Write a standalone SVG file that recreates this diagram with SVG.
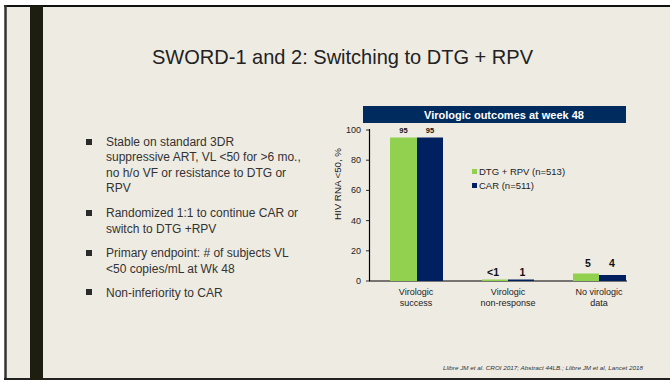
<svg xmlns="http://www.w3.org/2000/svg" width="670" height="380" viewBox="0 0 670 380">
  <style>
    .bg { fill: #EEEBE3; }
    .title { font-family: "Liberation Sans Narrow", "Liberation Sans", Arial, sans-serif; font-size: 21px; fill: #222222; }
    .bullet-text { font-family: "Liberation Sans", Arial, sans-serif; font-size: 12px; fill: #333333; }
    .bullet { fill: #2A2A2A; }
    .axis { stroke: #000000; stroke-width: 1.2; fill: none; }
    .tick { stroke: #000000; stroke-width: 0.8; }
    .ticklbl { font-family: "Liberation Sans", Arial, sans-serif; font-size: 9px; fill: #222222; text-anchor: end; }
    .catlbl { font-family: "Liberation Sans", Arial, sans-serif; font-size: 9px; fill: #222222; text-anchor: middle; }
    .val-s { font-family: "Liberation Sans", Arial, sans-serif; font-size: 7.5px; font-weight: bold; fill: #111111; text-anchor: middle; }
    .val-l { font-family: "Liberation Sans", Arial, sans-serif; font-size: 10.5px; font-weight: bold; fill: #111111; text-anchor: middle; }
    .legend { font-family: "Liberation Sans", Arial, sans-serif; font-size: 9.5px; fill: #222222; }
    .green { fill: #92D050; }
    .navy { fill: #002060; }
    .header { fill: #002B5E; }
    .header-text { font-family: "Liberation Sans", Arial, sans-serif; font-size: 11px; font-weight: bold; fill: #FFFFFF; text-anchor: middle; }
    .ylabel { font-family: "Liberation Sans", Arial, sans-serif; font-size: 8.5px; fill: #222222; }
    .cite { font-family: "Liberation Sans", Arial, sans-serif; font-size: 6px; font-style: italic; fill: #333333; }
  </style>

  <!-- slide background and frame -->
  <rect x="0" y="0" width="670" height="380" fill="#FFFFFF"/>
  <rect class="bg" x="5" y="6" width="665" height="372"/>
  <line x1="4" y1="6" x2="670" y2="6" stroke="#111111" stroke-width="2"/>
  <line x1="5.5" y1="5" x2="5.5" y2="380" stroke="#333333" stroke-width="2.5"/>
  <line x1="4" y1="379" x2="670" y2="379" stroke="#222222" stroke-width="2"/>
  <rect x="30" y="6" width="13" height="374" fill="#1E1E10"/>

  <!-- title -->
  <text class="title" x="152" y="64" textLength="381" lengthAdjust="spacingAndGlyphs">SWORD-1 and 2: Switching to DTG + RPV</text>

  <!-- bullet list -->
  <g id="bullets">
    <rect class="bullet" x="86" y="139" width="6" height="6"/>
    <text class="bullet-text" x="106" y="146">Stable on standard 3DR</text>
    <text class="bullet-text" x="106" y="161">suppressive ART, VL &lt;50 for &gt;6 mo.,</text>
    <text class="bullet-text" x="106" y="176.5">no h/o VF or resistance to DTG or</text>
    <text class="bullet-text" x="106" y="192">RPV</text>

    <rect class="bullet" x="86" y="210" width="6" height="6"/>
    <text class="bullet-text" x="106" y="217">Randomized 1:1 to continue CAR or</text>
    <text class="bullet-text" x="106" y="232.5">switch to DTG +RPV</text>

    <rect class="bullet" x="86" y="250" width="6" height="6"/>
    <text class="bullet-text" x="106" y="257">Primary endpoint: # of subjects VL</text>
    <text class="bullet-text" x="106" y="272.5">&lt;50 copies/mL at Wk 48</text>

    <rect class="bullet" x="86" y="289" width="6" height="6"/>
    <text class="bullet-text" x="106" y="296.5">Non-inferiority to CAR</text>
  </g>

  <!-- chart -->
  <g id="chart-header">
    <rect class="header" x="363" y="106" width="263" height="17"/>
    <text class="header-text" x="504" y="118.5">Virologic outcomes at week 48</text>
  </g>

  <g id="axes">
    <line class="axis" x1="369.5" y1="129" x2="369.5" y2="281"/>
    <line class="axis" x1="369" y1="281" x2="627" y2="281"/>
    <line class="tick" x1="366" y1="130" x2="369.5" y2="130"/>
    <line class="tick" x1="366" y1="160.2" x2="369.5" y2="160.2"/>
    <line class="tick" x1="366" y1="190.4" x2="369.5" y2="190.4"/>
    <line class="tick" x1="366" y1="220.6" x2="369.5" y2="220.6"/>
    <line class="tick" x1="366" y1="250.8" x2="369.5" y2="250.8"/>
    <line class="tick" x1="366" y1="281" x2="369.5" y2="281"/>
    <text class="ticklbl" x="361" y="133">100</text>
    <text class="ticklbl" x="361" y="163.2">80</text>
    <text class="ticklbl" x="361" y="193.4">60</text>
    <text class="ticklbl" x="361" y="223.6">40</text>
    <text class="ticklbl" x="361" y="253.8">20</text>
    <text class="ticklbl" x="361" y="284">0</text>
    <text class="ylabel" transform="translate(341,220) rotate(-90)" textLength="72" lengthAdjust="spacingAndGlyphs">HIV RNA &lt;50, %</text>
  </g>

  <g id="group-success">
    <rect class="green" x="390" y="137.5" width="27" height="143.5"/>
    <rect class="navy" x="417" y="137.5" width="26" height="143.5"/>
    <text class="val-s" x="403.5" y="133">95</text>
    <text class="val-s" x="430" y="133">95</text>
    <text class="catlbl" x="416" y="295">Virologic</text>
    <text class="catlbl" x="416" y="306">success</text>
  </g>

  <g id="group-nonresponse">
    <rect class="green" x="482" y="279.5" width="26" height="1.5"/>
    <rect class="navy" x="508" y="279.5" width="26" height="1.5"/>
    <text class="val-l" x="493" y="276">&lt;1</text>
    <text class="val-l" x="522.5" y="276">1</text>
    <text class="catlbl" x="508" y="295">Virologic</text>
    <text class="catlbl" x="508" y="306">non-response</text>
  </g>

  <g id="group-nodata">
    <rect class="green" x="573" y="273.5" width="26" height="7.5"/>
    <rect class="navy" x="599" y="275" width="27" height="6"/>
    <text class="val-l" x="588" y="267">5</text>
    <text class="val-l" x="612" y="267">4</text>
    <text class="catlbl" x="599" y="295">No virologic</text>
    <text class="catlbl" x="599" y="306">data</text>
  </g>

  <g id="legend">
    <rect class="green" x="472" y="169" width="5" height="5"/>
    <text class="legend" x="479" y="175">DTG + RPV (n=513)</text>
    <rect class="navy" x="472" y="183" width="5" height="5"/>
    <text class="legend" x="479" y="189">CAR (n=511)</text>
  </g>

  <!-- citation -->
  <text class="cite" x="443" y="370" textLength="200" lengthAdjust="spacingAndGlyphs">Llibre JM et al. CROI 2017; Abstract 44LB.; Llibre JM et al, Lancet 2018</text>
</svg>
